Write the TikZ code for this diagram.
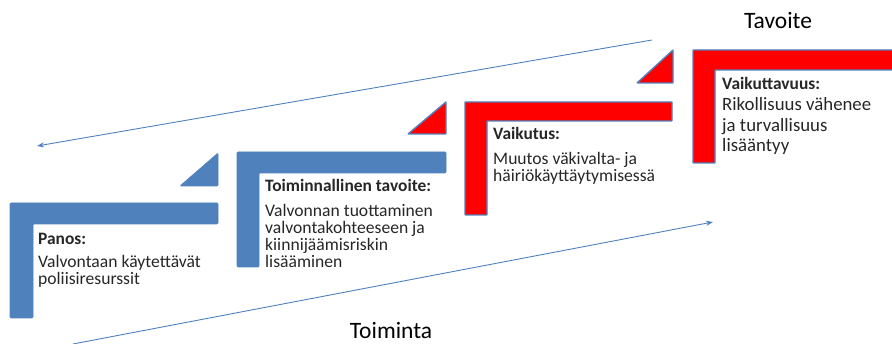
\documentclass[tikz,border=0pt]{standalone}
\usepackage{fontspec}
\setmainfont{Carlito}
\usetikzlibrary{arrows.meta}
\definecolor{pblue}{HTML}{4F81BD}
\definecolor{pred}{HTML}{FF0000}
\definecolor{ptext}{HTML}{262626}
\tikzset{
  bluebox/.style={fill=pblue, draw=pblue, line width=0.6pt, rounded corners=1pt},
  redbox/.style={fill=pred, draw=pblue, line width=1.4pt, rounded corners=0.5pt},
  headtxt/.style={anchor=base west, inner sep=0pt, font=\fontsize{17.4}{17.5}\selectfont\bfseries, text=ptext},
  bodytxt/.style={anchor=base west, inner sep=0pt, align=left, font=\fontsize{17.6}{17}\selectfont, text=ptext},
  bigbody/.style={anchor=base west, inner sep=0pt, align=left, font=\fontsize{18.8}{20.5}\selectfont, text=ptext},
  axistxt/.style={anchor=base, inner sep=0pt, font=\fontsize{23.5}{24}\selectfont, text=black},
  flow/.style={draw=pblue, line width=0.9pt, -{Stealth[length=7pt,width=5pt]}}
}
\begin{document}
\begin{tikzpicture}[x=1pt,y=-1pt]
\useasboundingbox (0,0) rectangle (892,344);
% Panos
\path[bluebox] (10,203) -- (218,203) -- (218,224) -- (33,224) -- (33,318) -- (10,318) -- cycle;
\path[bluebox] (180,186) -- (218,186) -- (218,153) -- cycle;
% Toiminnallinen tavoite
\path[bluebox] (237,152) -- (446,152) -- (446,173) -- (259,173) -- (259,267) -- (237,267) -- cycle;
\path[redbox] (408,134) -- (446,134) -- (446,102) -- cycle;
% Vaikutus
\path[redbox] (465,102) -- (672,102) -- (672,121) -- (487,121) -- (487,215) -- (465,215) -- cycle;
\path[redbox] (637,83) -- (673,83) -- (673,50) -- cycle;
% Vaikuttavuus
\path[redbox] (693,50) -- (895,50) -- (895,70) -- (715,70) -- (715,163) -- (693,163) -- cycle;
% texts (multi-line nodes: base = last line)
\node[headtxt] (h1) at (38,245) {Panos:};
\node[bodytxt] (b1) at (38,285) {Valvontaan käytettävät\\poliisiresurssit};
\node[headtxt] (h2) at (265,192) {Toiminnallinen tavoite:};
\node[bodytxt] (b2) at (265,268) {Valvonnan tuottaminen\\valvontakohteeseen ja\\kiinnijäämisriskin\\lisääminen};
\node[headtxt] (h3) at (493,140) {Vaikutus:};
\node[bodytxt] (b3) at (493,182) {Muutos väkivalta- ja\\häiriökäyttäytymisessä};
\node[headtxt] (h4) at (722,90) {Vaikuttavuus:};
\node[bigbody] (b4) at (722,152) {Rikollisuus vähenee\\ja turvallisuus\\lisääntyy};
\node[axistxt] (tav) at (778,29) {Tavoite};
\node[axistxt] (toi) at (391,339) {Toiminta};
% arrows
\coordinate (a1s) at (652,40);
\coordinate (a1e) at (37,146);
\coordinate (a2s) at (73,344);
\coordinate (a2e) at (713,222);
\draw[flow] (a1s) -- (a1e);
\draw[flow] (a2s) -- (a2e);
\end{tikzpicture}
\end{document}
